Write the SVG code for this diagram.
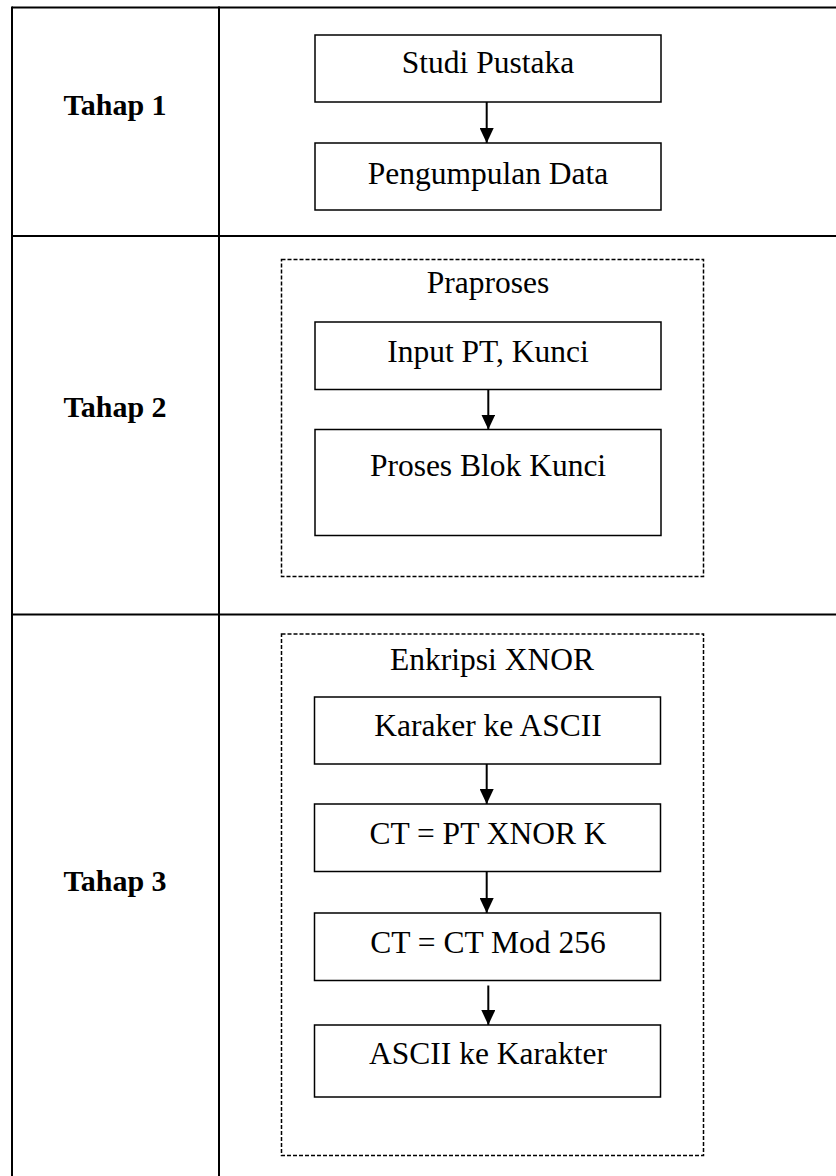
<svg xmlns="http://www.w3.org/2000/svg" width="836" height="1176" viewBox="0 0 836 1176">
<defs>
<marker id="ah" markerWidth="15" markerHeight="14" refX="15" refY="7" orient="auto" markerUnits="userSpaceOnUse" viewBox="0 0 15 14">
<path d="M0,0 L15,7 L0,14 Z" fill="#000"/>
</marker>
</defs>
<style>
.grid{stroke:#000;stroke-width:2;fill:none}
.box{stroke:#000;stroke-width:1.5;fill:#fff}
.dash{stroke:#000;stroke-width:1.5;fill:none;stroke-dasharray:4 2}
.t{font-size:31.5px;fill:#000;text-anchor:middle}
.b{font-size:30px;font-weight:bold;fill:#000;text-anchor:middle}
.c{stroke:#000;stroke-width:2;fill:none}
</style>
<rect width="836" height="1176" fill="#fff"/>
<g id="table">
<line class="grid" x1="12" y1="7.5" x2="840" y2="7.5"/>
<line class="grid" x1="12" y1="6.5" x2="12" y2="1180"/>
<line class="grid" x1="219" y1="6.5" x2="219" y2="1180"/>
<line class="grid" x1="11" y1="236" x2="840" y2="236"/>
<line class="grid" x1="11" y1="614.5" x2="840" y2="614.5"/>
</g>
<g id="tahap1"><text class="b" font-family="'Liberation Serif', serif" x="115" y="115">Tahap 1</text></g>
<g id="tahap2"><text class="b" font-family="'Liberation Serif', serif" x="115" y="417">Tahap 2</text></g>
<g id="tahap3"><text class="b" font-family="'Liberation Serif', serif" x="115" y="891">Tahap 3</text></g>
<g id="studi"><rect class="box" x="315" y="35" width="346" height="67"/><text class="t" font-family="'Liberation Serif', serif" x="488" y="73">Studi Pustaka</text></g>
<g id="pengumpulan"><rect class="box" x="315" y="143" width="346" height="67"/><text class="t" font-family="'Liberation Serif', serif" x="488" y="184">Pengumpulan Data</text></g>
<g id="praproses"><rect class="dash" x="281.5" y="259.5" width="422" height="317"/><text class="t" font-family="'Liberation Serif', serif" x="488" y="292.5">Praproses</text></g>
<g id="input"><rect class="box" x="315" y="322" width="346" height="67.5"/><text class="t" font-family="'Liberation Serif', serif" x="488" y="361.5">Input PT, Kunci</text></g>
<g id="blok"><rect class="box" x="315" y="429.5" width="346" height="106"/><text class="t" font-family="'Liberation Serif', serif" x="488" y="476">Proses Blok Kunci</text></g>
<g id="enkripsi"><rect class="dash" x="281.5" y="634" width="422" height="521.5"/><text class="t" font-family="'Liberation Serif', serif" x="492" y="670">Enkripsi XNOR</text></g>
<g id="karaker"><rect class="box" x="314.5" y="697" width="346" height="67"/><text class="t" font-family="'Liberation Serif', serif" x="488" y="736">Karaker ke ASCII</text></g>
<g id="ctxnor"><rect class="box" x="314.5" y="804" width="346" height="67.5"/><text class="t" font-family="'Liberation Serif', serif" x="488" y="843.5">CT = PT XNOR K</text></g>
<g id="ctmod"><rect class="box" x="314.5" y="913" width="346" height="67.5"/><text class="t" font-family="'Liberation Serif', serif" x="488" y="953">CT = CT Mod 256</text></g>
<g id="asciikar"><rect class="box" x="314.5" y="1025" width="346" height="72"/><text class="t" font-family="'Liberation Serif', serif" x="488" y="1064">ASCII ke Karakter</text></g>
<g id="connectors">
<line class="c" x1="486.7" y1="102" x2="486.7" y2="143" marker-end="url(#ah)"/>
<line class="c" x1="488.3" y1="389.5" x2="488.3" y2="429.5" marker-end="url(#ah)"/>
<line class="c" x1="486.7" y1="764" x2="486.7" y2="804" marker-end="url(#ah)"/>
<line class="c" x1="486.7" y1="871.5" x2="486.7" y2="913" marker-end="url(#ah)"/>
<line class="c" x1="488.3" y1="985.5" x2="488.3" y2="1025" marker-end="url(#ah)"/>
</g>
</svg>
